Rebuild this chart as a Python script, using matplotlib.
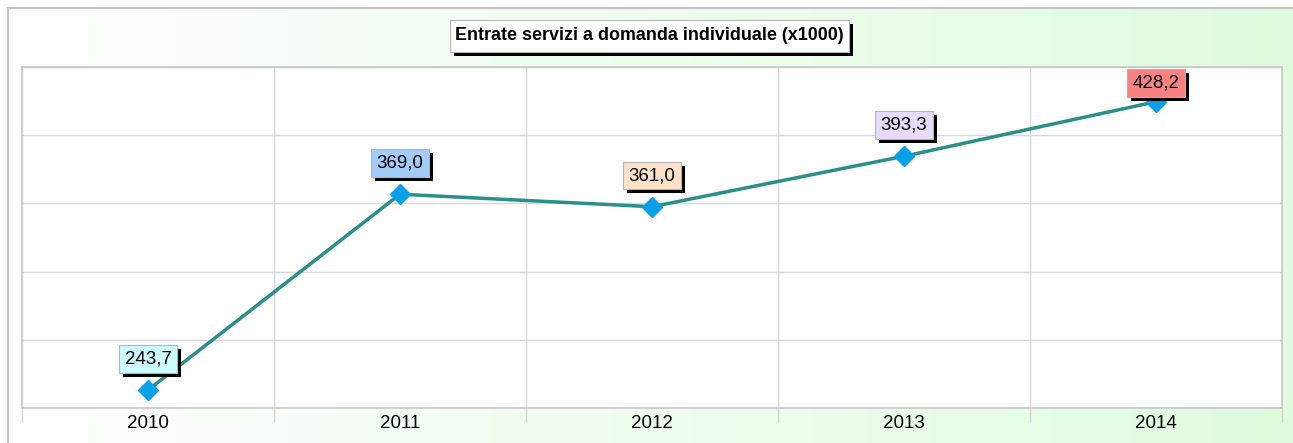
import matplotlib
matplotlib.use("Agg")
import matplotlib.pyplot as plt
import matplotlib.patheffects as pe
import numpy as np
from matplotlib.lines import Line2D
from matplotlib.patches import Rectangle

plt.rcParams["font.family"] = ["Liberation Sans", "DejaVu Sans"]

# Data
years = ["2010", "2011", "2012", "2013", "2014"]
values = [243.7, 369.0, 361.0, 393.3, 428.2]
label_colors = ["#ccfcfc", "#a4ccf8", "#fde2c9", "#e6dcfa", "#f88282"]
chart_title = "Entrate servizi a domanda individuale (x1000)"

W, H = 1293, 443
fig = plt.figure(figsize=(W / 100, H / 100), dpi=100)
fig.patch.set_facecolor("white")
px2pt = 72 / fig.dpi

# Horizontal white-to-green background gradient inside the outer frame
bg = fig.add_axes([8 / W, 0, 1 - 8 / W, 1 - 8 / H], zorder=0)
t = np.linspace(0, 1, 256)
c0 = np.array([1.0, 1.0, 1.0])
c1 = np.array([0xDF, 0xFC, 0xDF]) / 255
grad = c0[None, :] * (1 - t[:, None]) + c1[None, :] * t[:, None]
bg.imshow(grad[None, :, :], aspect="auto", extent=[0, 1, 0, 1])
bg.axis("off")
fig.add_artist(Line2D([8 / W, 8 / W], [0, 1 - 8 / H], color="#c4c4c4", lw=1.5))
fig.add_artist(Line2D([8 / W, 1], [1 - 8 / H, 1 - 8 / H], color="#c4c4c4", lw=1.5))

# Plot area
ax_l, ax_r, ax_t, ax_b = 22, 1282, 67, 408
ax = fig.add_axes([ax_l / W, (H - ax_b) / H, (ax_r - ax_l) / W, (ax_b - ax_t) / H], zorder=1)
ax.set_facecolor("white")
x = np.arange(len(years))
ax.set_xlim(-0.5, len(years) - 0.5)
ax.set_ylim(232.2, 450.4)
ax.set_yticks(np.linspace(232.2, 450.4, 6))
ax.set_yticklabels([])
ax.set_xticks(x)
ax.set_xticklabels(years, fontsize=13.5)
ax.set_xticks(np.arange(-0.5, len(years), 1.0), minor=True)
ax.tick_params(axis="x", which="major", length=0, pad=5)
ax.tick_params(axis="x", which="minor", length=10, color="#d4d4d4", width=1)
ax.tick_params(axis="y", length=0)
ax.grid(axis="y", color="#d8d8d8", lw=1)
ax.grid(axis="x", which="minor", color="#d8d8d8", lw=1)
for s in ax.spines.values():
    s.set_color("#c8c8c8")
    s.set_linewidth(1.2)

ax.plot(x, values, color="#2a8f8a", lw=2.5, zorder=3, clip_on=False)
ax.plot(x, values, linestyle="none", marker="D", ms=9.8, color="#0aa0e8",
        markeredgecolor="#0aa0e8", zorder=4, clip_on=False)

# Value labels in coloured boxes with a solid black drop shadow
shadow = [pe.SimplePatchShadow(offset=(4 * px2pt, -4 * px2pt), shadow_rgbFace="black", alpha=1.0),
          pe.Normal()]
fig.canvas.draw()
top_pix = ax.transAxes.transform((0, 1))[1]
for i, v in enumerate(values):
    ypix = ax.transData.transform((i, v))[1]
    cpix = min(ypix + 31, top_pix - 16)
    dy = (cpix - ypix) * px2pt
    txt = f"{v:.1f}".replace(".", ",")
    ann = ax.annotate(txt, (i, v), xytext=(0, dy), textcoords="offset points",
                      ha="center", va="center", fontsize=13.5, color="black", zorder=6,
                      bbox=dict(boxstyle="square,pad=0.28", fc=label_colors[i], ec="#b4b4b4", lw=0.8),
                      annotation_clip=False)
    ann.get_bbox_patch().set_path_effects(shadow)

# Title box with drop shadow
tx0, ty0, tw, th = 450, 20, 399, 32
fig.add_artist(Rectangle(((tx0 + 4) / W, (H - ty0 - th - 4) / H), tw / W, th / H,
                         transform=fig.transFigure, fc="black", ec="black", lw=0, zorder=7))
fig.add_artist(Rectangle((tx0 / W, (H - ty0 - th) / H), tw / W, th / H,
                         transform=fig.transFigure, fc="white", ec="#b4b4b4", lw=0.8, zorder=8))
fig.text((tx0 + tw / 2) / W, (H - ty0 - th / 2) / H, chart_title, ha="center", va="center",
         fontsize=12.9, fontweight="bold", color="black", zorder=9)

fig.savefig("out.png", dpi=100)
